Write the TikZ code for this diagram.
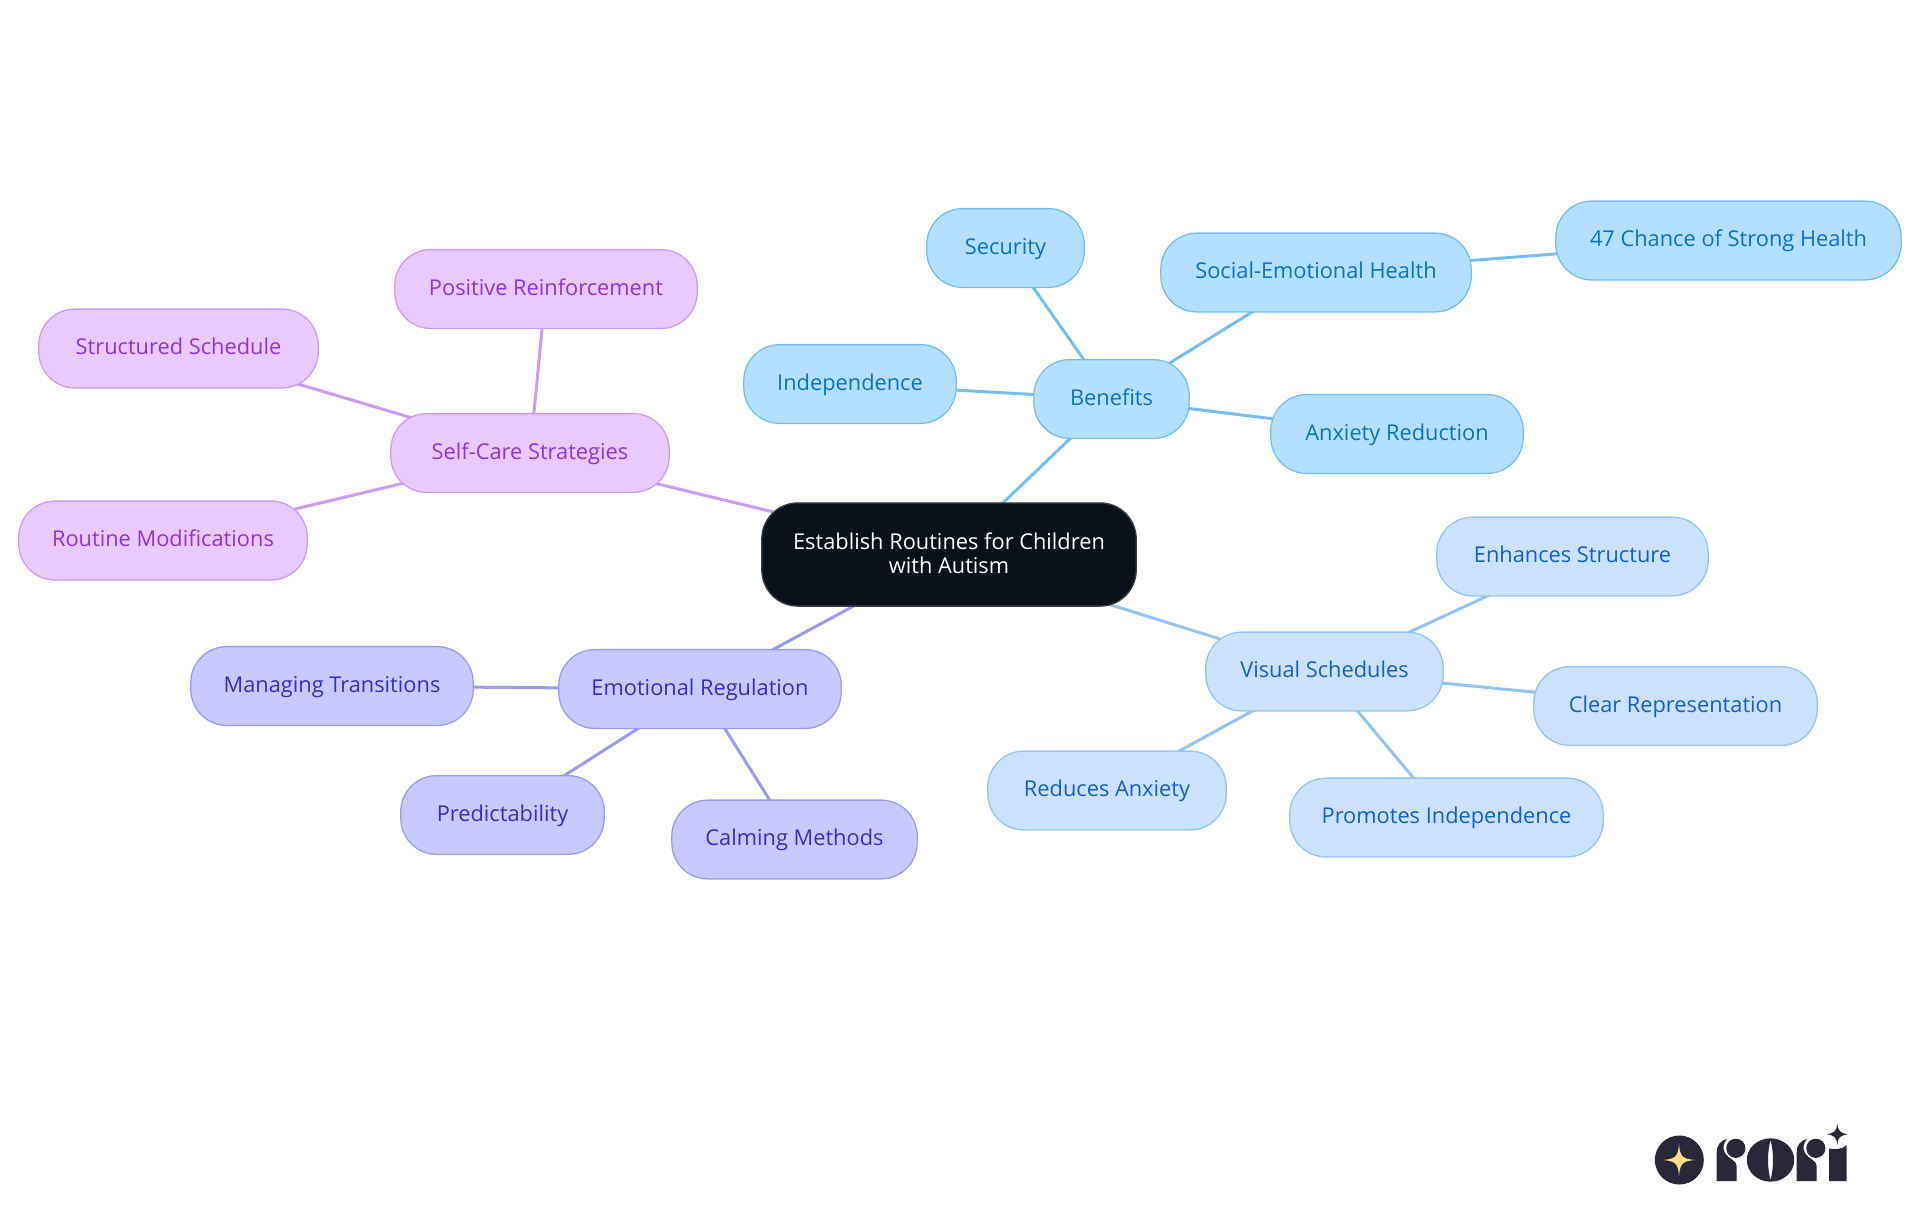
\documentclass[tikz,border=0pt]{standalone}
\usepackage{fontspec}
\setmainfont{Open Sans}
\usetikzlibrary{backgrounds}

\definecolor{rootfill}{HTML}{0B1119}
\definecolor{rootline}{HTML}{3A3F47}
\definecolor{benefill}{HTML}{B3E0FF}
\definecolor{beneline}{HTML}{76BEF0}
\definecolor{benetext}{HTML}{0A72C2}
\definecolor{visfill}{HTML}{CCE2FC}
\definecolor{visline}{HTML}{96C3F2}
\definecolor{vistext}{HTML}{0F62CC}
\definecolor{emofill}{HTML}{C8CAFF}
\definecolor{emoline}{HTML}{9A9CF0}
\definecolor{emotext}{HTML}{3030C8}
\definecolor{carefill}{HTML}{E8CAFF}
\definecolor{careline}{HTML}{CC9CF2}
\definecolor{caretext}{HTML}{9434D6}
\definecolor{logodark}{HTML}{292838}
\definecolor{logostar}{HTML}{FBDB8C}

\tikzset{
  pill/.style={rectangle,rounded corners=18pt,line width=0.65pt,inner sep=0pt,
    minimum height=39.4pt,font=\fontsize{10.9}{12}\selectfont,text height=9.4pt,text depth=3pt},
  benefit/.style={pill,draw=beneline,fill=benefill,text=benetext},
  visual/.style={pill,draw=visline,fill=visfill,text=vistext},
  emotion/.style={pill,draw=emoline,fill=emofill,text=emotext},
  selfcare/.style={pill,draw=careline,fill=carefill,text=caretext},
  benelink/.style={draw=beneline,line width=1.5pt},
  vislink/.style={draw=visline,line width=1.5pt},
  emolink/.style={draw=emoline,line width=1.5pt},
  carelink/.style={draw=careline,line width=1.5pt},
}

\begin{document}
\begin{tikzpicture}[x=0.5pt,y=-0.5pt]
  \useasboundingbox (0,0) rectangle (1920,1215);

  \node[rectangle,rounded corners=18pt,line width=0.65pt,draw=rootline,fill=rootfill,text=white,
    inner sep=0pt,minimum width=187.2pt,minimum height=51.6pt,align=center,
    font=\fontsize{10.9}{12}\selectfont] (root) at (949,554.5)
    {Establish Routines for Children\\with Autism\rule[-1.4pt]{0pt}{0pt}};

  % benefits
  \node[benefit,minimum width=77.7pt] (benefits) at (1111.5,399) {Benefits};
  \node[benefit,minimum width=106.2pt] (independence) at (850,384) {Independence};
  \node[benefit,minimum width=78.7pt] (security) at (1005.5,248) {Security};
  \node[benefit,minimum width=155.2pt] (social) at (1316,272.5) {Social-Emotional Health};
  \node[benefit,minimum width=172.7pt] (chance) at (1728.5,240.5) {47 Chance of Strong Health};
  \node[benefit,minimum width=126.2pt] (anxiety) at (1397,434) {Anxiety Reduction};

  % visual schedules
  \node[visual,minimum width=118.7pt] (schedules) at (1324.5,671.5) {Visual Schedules};
  \node[visual,minimum width=135.7pt] (structure) at (1572.5,556.5) {Enhances Structure};
  \node[visual,minimum width=141.7pt] (clear) at (1675.5,706) {Clear Representation};
  \node[visual,minimum width=156.7pt] (promotes) at (1446.5,817.5) {Promotes Independence};
  \node[visual,minimum width=119.2pt] (reduces) at (1107,790.5) {Reduces Anxiety};

  % emotional regulation
  \node[emotion,minimum width=141.2pt] (emotional) at (700,689) {Emotional Regulation};
  \node[emotion,minimum width=141.2pt] (managing) at (332,686) {Managing Transitions};
  \node[emotion,minimum width=101.7pt] (predict) at (502.5,815) {Predictability};
  \node[emotion,minimum width=122.7pt] (calming) at (794.5,839.5) {Calming Methods};

  % self-care
  \node[selfcare,minimum width=139.2pt] (care) at (530,453) {Self-Care Strategies};
  \node[selfcare,minimum width=151.2pt] (positive) at (546,289) {Positive Reinforcement};
  \node[selfcare,minimum width=139.7pt] (structured) at (178.5,348.5) {Structured Schedule};
  \node[selfcare,minimum width=144.2pt] (routine) at (163,540.5) {Routine Modifications};

  \begin{scope}[on background layer]
    \draw[benelink] (root.center)--(benefits.center);
    \draw[benelink] (benefits.center)--(independence.center);
    \draw[benelink] (benefits.center)--(security.center);
    \draw[benelink] (benefits.center)--(social.center);
    \draw[benelink] (benefits.center)--(anxiety.center);
    \draw[benelink] (social.center)--(chance.center);
    \draw[vislink] (root.center)--(schedules.center);
    \draw[vislink] (schedules.center)--(structure.center);
    \draw[vislink] (schedules.center)--(clear.center);
    \draw[vislink] (schedules.center)--(promotes.center);
    \draw[vislink] (schedules.center)--(reduces.center);
    \draw[emolink] (root.center)--(emotional.center);
    \draw[emolink] (emotional.center)--(managing.center);
    \draw[emolink] (emotional.center)--(predict.center);
    \draw[emolink] (emotional.center)--(calming.center);
    \draw[carelink] (root.center)--(care.center);
    \draw[carelink] (care.center)--(positive.center);
    \draw[carelink] (care.center)--(structured.center);
    \draw[carelink] (care.center)--(routine.center);
  \end{scope}

  % logo
  \fill[logodark] (1679.3,1160) circle (24.5);
  \fill[logostar] (1679,1144) .. controls (1680,1156) and (1682,1159) .. (1695.3,1160)
    .. controls (1682,1161) and (1680,1164) .. (1679,1176)
    .. controls (1678,1164) and (1676,1161) .. (1662.7,1160)
    .. controls (1676,1159) and (1678,1156) .. (1679,1144) -- cycle;
  % r
  \fill[logodark] (1716.7,1181) -- (1716.7,1152) .. controls (1716.7,1145) and (1721,1140) .. (1727.3,1139)
    .. controls (1723,1143) and (1722.5,1148) .. (1725,1153) .. controls (1728,1159) and (1736.7,1160) .. (1736.7,1166)
    -- (1736.7,1181) -- cycle;
  \fill[logodark] (1735.8,1148.3) circle (9.6);
  % o
  \fill[logodark,even odd rule] (1770.5,1160) ellipse [x radius=23.7,y radius=21.7]
    (1770.5,1140) .. controls (1767.2,1152) and (1767.2,1168) .. (1770.5,1180)
    .. controls (1773.8,1168) and (1773.8,1152) .. (1770.5,1140) -- cycle;
  % r
  \fill[logodark] (1796.7,1181) -- (1796.7,1152) .. controls (1796.7,1145) and (1801,1140) .. (1807.3,1139)
    .. controls (1803,1143) and (1802.5,1148) .. (1805,1153) .. controls (1808,1159) and (1816.7,1160) .. (1816.7,1166)
    -- (1816.7,1181) -- cycle;
  \fill[logodark] (1815.8,1148.3) circle (9.6);
  % i
  \fill[logodark] (1829,1181) -- (1829,1148.5) .. controls (1835,1150) and (1843,1149) .. (1846.7,1145) -- (1846.7,1181) -- cycle;
  \fill[logodark] (1837.3,1123.5) .. controls (1838,1131) and (1840,1133) .. (1848,1134.3)
    .. controls (1840,1135.5) and (1838,1137) .. (1837.3,1145)
    .. controls (1836.5,1137) and (1834.5,1135.5) .. (1826.8,1134.3)
    .. controls (1834.5,1133) and (1836.5,1131) .. (1837.3,1123.5) -- cycle;
\end{tikzpicture}
\end{document}
